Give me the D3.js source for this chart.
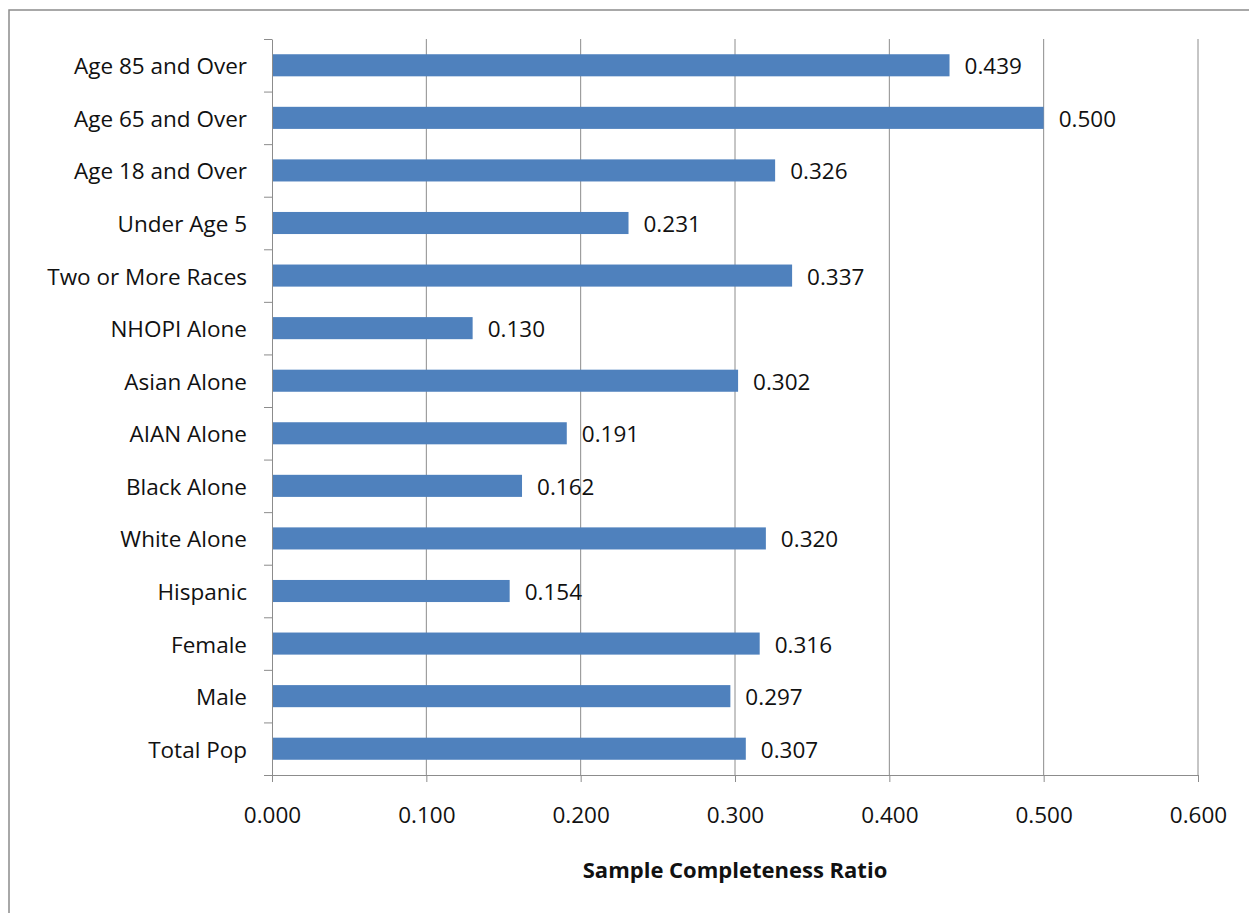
<!DOCTYPE html>
<html>
<head>
<meta charset="utf-8">
<script src="https://cdn.jsdelivr.net/npm/d3@7"></script>
<style>
  body { margin: 0; background: #fff; }
  text { font-family: "Open Sans", Lato, sans-serif; fill: #111; }
</style>
</head>
<body>
<svg id="chart" width="1249" height="913"></svg>
<script>
let categories = ['Age 85 and Over', 'Age 65 and Over', 'Age 18 and Over', 'Under Age 5',
	'Two or More Races', 'NHOPI Alone', 'Asian Alone', 'AIAN Alone', 'Black Alone',
	'White Alone', 'Hispanic', 'Female', 'Male', 'Total Pop'];
let values = [0.439, 0.500, 0.326, 0.231, 0.337, 0.130, 0.302, 0.191, 0.162,
	0.320, 0.154, 0.316, 0.297, 0.307];
let xTicks = [0, 0.1, 0.2, 0.3, 0.4, 0.5, 0.6];
let xTitle = 'Sample Completeness Ratio';

let svg = d3.select('#chart');

// outer chart frame
svg.append('rect')
	.attr('x', 9).attr('y', 10)
	.attr('width', 1260).attr('height', 930)
	.attr('fill', 'none')
	.attr('stroke', '#8c8c8c')
	.attr('stroke-width', 1.5);

let plotLeft = 272, plotRight = 1198, plotTop = 39, plotBottom = 775;
let fontSize = '22.5px';

let x = d3.scaleLinear().domain([0, 0.6]).range([plotLeft, plotRight]);
let y = d3.scaleBand().domain(categories).range([plotTop, plotBottom])
	.paddingInner(0.58).paddingOuter(0.29);

// gridlines
svg.append('g')
	.selectAll('line')
	.data(xTicks.slice(1))
	.join('line')
	.attr('x1', d => x(d)).attr('x2', d => x(d))
	.attr('y1', plotTop).attr('y2', plotBottom)
	.attr('stroke', '#8c8c8c')
	.attr('stroke-width', 1);

// bars
svg.append('g')
	.selectAll('rect')
	.data(values)
	.join('rect')
	.attr('x', x(0))
	.attr('y', (d, i) => y(categories[i]))
	.attr('width', d => x(d) - x(0))
	.attr('height', y.bandwidth())
	.attr('fill', '#4f81bd');

// value labels
svg.append('g')
	.selectAll('text')
	.data(values)
	.join('text')
	.attr('x', d => x(d) + 15)
	.attr('y', (d, i) => y(categories[i]) + y.bandwidth() / 2)
	.attr('dy', '0.4em')
	.style('font-size', fontSize)
	.text(d => d3.format('.3f')(d));

// x axis
let xAxis = svg.append('g')
	.attr('transform', `translate(0,${plotBottom})`)
	.call(d3.axisBottom(x).tickValues(xTicks).tickFormat(d3.format('.3f')).tickSize(7).tickPadding(25));
xAxis.attr('font-family', null).attr('font-size', null);
xAxis.select('.domain').attr('stroke', '#8c8c8c');
xAxis.selectAll('.tick line').attr('stroke', '#8c8c8c');
xAxis.selectAll('text').style('font-size', fontSize).attr('fill', null);

// y axis: ticks sit on band boundaries, so use a linear index scale for the ticks
let yb = d3.scaleLinear().domain([0, categories.length]).range([plotTop, plotBottom]);
let yAxis = svg.append('g')
	.attr('transform', `translate(${plotLeft},0)`)
	.call(d3.axisLeft(yb).tickValues(d3.range(categories.length + 1)).tickFormat('').tickSize(8).tickSizeOuter(0));
yAxis.select('.domain').attr('stroke', '#8c8c8c');
yAxis.selectAll('.tick line').attr('stroke', '#8c8c8c');

// category labels
svg.append('g')
	.selectAll('text')
	.data(categories)
	.join('text')
	.attr('x', plotLeft - 25)
	.attr('y', d => y(d) + y.bandwidth() / 2)
	.attr('dy', '0.4em')
	.attr('text-anchor', 'end')
	.style('font-size', fontSize)
	.text(d => d);

// axis title
svg.append('text')
	.attr('x', (plotLeft + plotRight) / 2)
	.attr('y', 878)
	.attr('text-anchor', 'middle')
	.style('font-size', '22px')
	.style('font-weight', 'bold')
	.text(xTitle);
</script>
</body>
</html>
